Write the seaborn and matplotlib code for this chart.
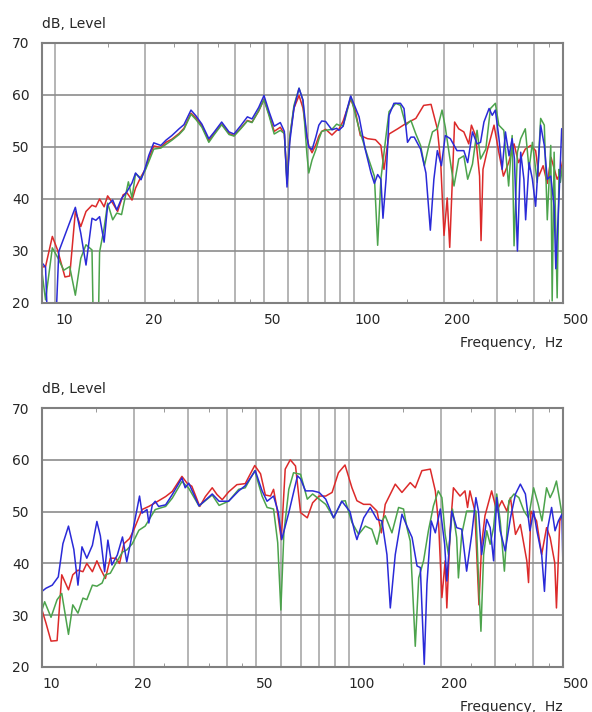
"""Two-panel frequency response plot (level in dB vs frequency)"""

import matplotlib
matplotlib.use("Agg")
import matplotlib.pyplot as plt
from matplotlib.ticker import FixedLocator, NullFormatter
import pandas as pd
import seaborn as sns

# (Hz, dB) points
top_red = [
    (9.0, 26.9), (9.3, 27.0), (9.8, 32.8), (10.2, 30.2), (10.8, 25.0), (11.2, 25.2), (11.7, 37.6),
    (12.2, 34.7), (12.7, 37.6), (13.3, 38.8), (13.7, 38.5), (14.1, 40.0), (14.6, 38.5), (15.0, 40.6),
    (15.6, 39.2), (16.2, 37.6), (16.9, 40.8), (17.4, 41.2), (18.1, 39.8), (18.6, 42.1), (19.4, 44.3),
    (20, 45.6), (20.6, 47.8), (21.4, 50.2), (22.6, 49.9), (23.5, 50.9), (24.6, 51.5), (26, 52.6),
    (27, 53.6), (28.5, 56.5), (29.6, 55.6), (31, 54.1), (32.7, 51.2), (34, 52.5), (36.1, 54.4),
    (38.2, 52.6), (39.7, 52.2), (41.8, 53.6), (44, 55.1), (45.6, 54.8), (48, 56.9), (50, 59.2),
    (52, 56.3), (54.1, 53.0), (56.7, 53.8), (58.5, 52.5), (59.7, 43.5), (61, 52.0), (63, 57.5),
    (65.5, 59.9), (67.5, 57.5), (69.6, 52.0), (70.6, 50.2), (72.4, 48.9), (74.6, 50.5), (76.3, 52.1),
    (78, 53.0), (80.4, 53.4), (84.4, 52.3), (87.5, 53.2), (89, 53.4), (92, 55.0), (94, 56.6),
    (97.5, 59.2), (101, 57.0), (105, 52.2), (111, 51.6), (118, 51.4), (123, 50.3), (126, 45.7),
    (131, 52.5), (140, 53.5), (149, 54.5), (161, 55.5), (171, 58.0), (181, 58.2), (190, 53.5),
    (195, 47.0), (200, 33.0), (205, 40.2), (209, 30.7), (217, 54.8), (224, 53.5), (233, 52.9),
    (242, 50.6), (247, 54.2), (255, 52.2), (263, 44.4), (266, 32.0), (270, 45.7), (279, 49.3),
    (294, 54.2), (305, 49.0), (316, 44.4), (329, 47.0), (343, 50.6), (355, 47.0), (374, 49.6),
    (390, 50.3), (405, 49.3), (415, 44.4), (429, 46.4), (443, 43.0), (456, 48.0), (478, 43.8),
    (490, 45.0), (500, 47.7),
]
top_blue = [
    (9.0, 27.9), (9.3, 26.9), (9.5, 12.0), (10.0, 12.0), (10.3, 29.9), (11.7, 38.4), (12.2, 33.4),
    (12.7, 27.3), (13.3, 36.3), (13.7, 35.9), (14.1, 36.6), (14.6, 31.7), (15.0, 38.8), (15.6, 39.8),
    (16.1, 37.9), (16.7, 40.1), (17.4, 41.4), (18.1, 43.1), (18.6, 45.0), (19.4, 43.7),
    (20, 45.8), (20.6, 48.4), (21.4, 50.8), (22.6, 50.3), (23.5, 51.3), (24.6, 52.2), (26, 53.5),
    (27, 54.3), (28.5, 57.1), (29.6, 56.0), (31, 54.4), (32.7, 51.6), (34, 52.8), (36.1, 54.8),
    (38.2, 52.9), (39.7, 52.5), (41.8, 54.1), (44, 55.8), (45.6, 55.4), (48, 57.6), (50, 59.9),
    (52, 56.8), (54.1, 54.0), (56.7, 54.7), (58.5, 53.0), (59.7, 42.3), (61, 51.0), (63, 57.5),
    (65.5, 61.3), (67.5, 59.0), (69.6, 52.0), (70.6, 50.0), (72.4, 49.5), (74.6, 52.0), (76.3, 54.2),
    (78, 55.0), (80.4, 54.9), (84.4, 53.3), (87.5, 53.6), (89, 53.2), (92, 54.0), (94, 56.5),
    (97.5, 59.8), (104, 55.8), (109, 49.6), (114, 45.0), (117, 43.0), (120, 44.7), (123, 43.8),
    (125, 36.3), (128, 43.8), (131, 56.1), (136, 58.4), (143, 58.4), (147, 57.4), (151, 50.9),
    (155, 51.9), (159, 51.9), (167, 49.6), (174, 45.0), (180, 34.0), (185, 43.8), (190, 49.3),
    (196, 46.4), (202, 52.2), (210, 51.6), (221, 49.3), (233, 49.3), (240, 47.0), (249, 52.9),
    (258, 50.6), (265, 50.9), (272, 54.8), (283, 57.4), (290, 56.1), (297, 57.1), (305, 51.9),
    (313, 45.7), (321, 52.9), (330, 48.3), (338, 51.6), (344, 47.7), (352, 30.0), (361, 49.0),
    (370, 43.8), (375, 36.0), (385, 47.0), (395, 43.8), (405, 38.6), (421, 54.2), (433, 50.3),
    (443, 43.8), (455, 44.4), (467, 38.6), (473, 26.6), (485, 40.5), (495, 53.5), (500, 53.6),
]
top_green = [
    (9.0, 27.0), (9.3, 20.6), (9.8, 30.6), (10.2, 28.8), (10.7, 26.3), (11.2, 27.0), (11.7, 21.5),
    (12.2, 28.6), (12.7, 31.2), (13.3, 30.2), (13.45, 14.0), (13.95, 14.0), (14.1, 29.8), (14.6, 34.4),
    (15.0, 39.2), (15.6, 36.0), (16.1, 37.3), (16.7, 37.0), (17.6, 43.3), (18.1, 40.2), (18.6, 44.9),
    (19.4, 44.0), (20, 45.4), (20.6, 47.2), (21.4, 49.6), (22.6, 49.8), (23.5, 50.5), (24.6, 51.3),
    (26, 52.4), (27, 53.4), (28.5, 56.3), (29.6, 55.3), (31, 53.8), (32.7, 50.9), (34, 52.3),
    (36.1, 54.3), (38.2, 52.4), (39.7, 52.1), (41.8, 53.5), (44, 55.0), (45.6, 54.7), (48, 57.0),
    (50, 59.1), (52, 56.0), (54.1, 52.5), (56.7, 53.2), (58.5, 52.6), (59.7, 43.0), (61, 52.0),
    (63, 58.0), (65.5, 61.3), (67.5, 59.0), (69.6, 48.6), (70.6, 45.0), (72.4, 47.5), (74.6, 49.5),
    (76.3, 51.5), (78, 53.0), (80.4, 53.2), (84.4, 53.4), (87.5, 54.4), (89, 54.2), (92, 54.1),
    (94, 56.0), (97.5, 59.7), (104, 53.5), (111, 48.3), (117, 44.4), (120, 31.1), (123, 43.8),
    (128, 52.2), (131, 56.8), (138, 58.4), (143, 58.0), (149, 54.2), (155, 55.1), (161, 52.5),
    (167, 50.3), (172, 46.4), (178, 50.3), (183, 52.9), (190, 53.5), (197, 57.1), (202, 53.8),
    (209, 48.0), (216, 42.5), (224, 47.7), (233, 48.3), (240, 43.8), (249, 46.7), (258, 53.2),
    (265, 47.7), (276, 49.6), (286, 57.4), (297, 58.4), (305, 54.2), (317, 53.2), (329, 42.5),
    (338, 52.2), (343, 31.0), (352, 49.0), (361, 51.6), (374, 53.5), (385, 45.7), (395, 50.9),
    (410, 43.2), (421, 55.5), (433, 54.2), (443, 36.0), (455, 50.3), (460, 20.4), (467, 49.0),
    (478, 21.0), (485, 45.7), (490, 43.2), (498, 46.4),
]

bot_red = [
    (10.0, 31.0), (10.3, 28.5), (10.7, 25.0), (11.2, 25.1), (11.6, 37.8), (12.2, 34.9), (12.6, 37.8),
    (13.1, 38.7), (13.6, 38.4), (14.0, 40.0), (14.6, 38.4), (15.1, 40.5), (15.5, 39.0), (16.1, 37.1),
    (16.7, 41.0), (17.4, 41.0), (17.9, 40.0), (18.5, 43.8), (19.3, 44.8), (19.9, 46.4),
    (21.2, 50.4), (22.3, 51.0), (23.4, 51.7), (25.3, 52.9), (26.6, 53.9), (28.6, 56.8), (29.7, 55.5),
    (30.8, 54.9), (32.7, 51.0), (34.1, 52.9), (35.9, 54.6), (37.2, 53.3), (38.7, 52.3), (40.6, 53.8),
    (43.2, 55.2), (46.0, 55.4), (49.4, 58.9), (51.6, 57.3), (53.5, 53.2), (55.6, 53.0), (56.9, 54.3),
    (58.3, 50.8), (60.3, 44.6), (62.1, 58.2), (64.5, 60.0), (67.1, 58.8), (69.7, 49.8), (73.3, 48.8),
    (76.3, 51.7), (80.1, 53.0), (84.2, 53.0), (88.3, 53.7), (92.6, 57.5), (97.3, 59.0),
    (102.5, 54.6), (106.4, 52.1), (111.9, 51.4), (117.6, 51.4), (123.7, 50.1), (127.8, 45.9),
    (131.6, 51.4), (141.9, 55.3), (149.2, 53.7), (158.8, 55.6), (164.9, 54.6), (173.3, 57.9),
    (184.6, 58.2), (191.7, 54.0), (196.6, 47.5), (201.4, 33.4), (206.4, 40.5), (209.0, 31.4),
    (214.2, 46.3), (219.6, 54.6), (230.8, 53.0), (239.5, 54.0), (244.2, 50.8), (248.6, 54.0),
    (258.0, 50.1), (266.0, 32.0), (271.4, 43.7), (278.3, 49.2), (292.6, 54.0), (304.0, 50.1),
    (316.0, 52.1), (328.0, 50.1), (337.0, 52.7), (350.0, 45.6), (363.0, 47.5), (381.0, 40.5),
    (386.0, 36.3), (393.0, 50.1), (410.0, 48.2), (426.0, 41.7), (442.0, 46.9), (454.0, 45.0),
    (470.0, 40.1), (476.0, 31.4), (488.0, 48.2), (500.0, 49.8),
]
bot_blue = [
    (10.0, 34.6), (10.3, 35.2), (10.8, 35.8), (11.3, 37.4), (11.7, 43.8), (12.2, 47.2), (12.7, 42.7),
    (13.1, 35.8), (13.5, 43.2), (14.0, 41.0), (14.6, 43.5), (15.1, 48.1), (15.5, 45.3), (16.0, 38.4),
    (16.4, 44.5), (16.9, 39.7), (17.6, 41.6), (18.3, 45.1), (18.9, 40.3), (19.6, 45.1),
    (20.8, 53.0), (21.2, 49.7), (22.0, 50.4), (22.3, 47.8), (22.9, 51.3), (23.4, 52.0), (24.0, 51.0),
    (25.3, 51.3), (26.6, 53.3), (28.6, 56.5), (29.3, 54.6), (30.1, 55.5), (32.5, 51.1), (35.9, 53.4),
    (37.8, 52.0), (40.6, 52.0), (43.8, 54.0), (46.0, 55.0), (49.6, 57.9), (52.2, 54.0), (54.2, 52.0),
    (56.9, 53.0), (59.0, 49.8), (60.5, 44.6), (63.8, 49.8), (68.1, 56.9), (69.7, 56.3), (72.3, 54.0),
    (76.3, 54.0), (80.1, 53.7), (84.2, 52.4), (89.3, 48.8), (95.0, 52.0), (101.0, 50.0),
    (104.7, 46.0), (106.4, 44.6), (112.0, 48.8), (117.6, 50.8), (123.7, 48.5), (128.4, 48.2),
    (133.3, 41.7), (136.7, 31.4), (141.9, 41.7), (149.2, 49.5), (154.9, 47.2), (161.0, 45.0),
    (167.1, 39.5), (171.3, 39.2), (176.4, 20.5), (180.0, 36.0), (185.9, 48.2), (191.7, 45.9),
    (199.0, 50.5), (205.6, 43.7), (209.0, 36.6), (216.9, 50.1), (225.0, 46.9), (233.7, 46.6),
    (242.5, 38.5), (252.0, 45.6), (260.0, 52.7), (265.0, 50.1), (271.4, 41.7), (282.0, 48.5),
    (289.4, 46.9), (296.9, 40.5), (304.0, 52.7), (312.0, 46.3), (324.0, 42.4), (337.0, 48.8),
    (350.0, 53.4), (363.0, 55.3), (377.0, 53.4), (390.0, 46.3), (401.0, 50.1), (411.0, 46.3),
    (426.0, 41.7), (435.0, 34.6), (446.0, 46.9), (459.0, 50.8), (471.0, 46.3), (483.0, 48.2),
    (496.0, 49.5), (500.0, 38.8),
]
bot_green = [
    (10.0, 31.0), (10.2, 32.6), (10.7, 29.6), (11.2, 33.0), (11.6, 34.2), (12.2, 26.3), (12.6, 32.0),
    (13.1, 30.4), (13.6, 33.3), (14.0, 33.0), (14.6, 35.8), (15.1, 35.6), (15.7, 36.2), (16.1, 37.8),
    (16.7, 38.1), (17.4, 40.0), (18.3, 42.2), (18.9, 42.6), (19.7, 43.8), (20.7, 46.4), (21.7, 47.2),
    (23.4, 50.4), (25.3, 51.0), (26.6, 52.6), (28.6, 55.8), (30.1, 54.5), (32.5, 51.1), (35.9, 53.2),
    (37.8, 51.2), (40.6, 52.0), (43.8, 54.3), (46.0, 54.6), (49.4, 57.9), (52.2, 53.0), (54.2, 50.8),
    (56.9, 50.5), (58.7, 44.0), (60.1, 31.0), (61.5, 46.0), (63.8, 54.3), (66.1, 57.5), (69.7, 57.2),
    (73.3, 52.4), (76.3, 53.4), (80.1, 52.4), (84.2, 51.4), (89.3, 48.8), (95.0, 52.0), (97.5, 52.1),
    (102.5, 47.9), (107.8, 45.6), (113.3, 47.2), (119.0, 46.6), (123.7, 43.7), (128.4, 48.2),
    (131.6, 49.2), (138.4, 45.9), (145.5, 50.8), (151.0, 50.5), (154.9, 46.9), (158.8, 44.3),
    (162.9, 30.8), (164.9, 24.0), (169.2, 37.2), (175.5, 40.5), (182.0, 46.3), (189.0, 51.1),
    (196.0, 54.0), (201.4, 52.7), (206.4, 45.6), (211.6, 41.7), (218.0, 50.5), (225.0, 45.0),
    (228.0, 37.2), (233.7, 45.6), (242.5, 50.1), (252.0, 50.1), (260.0, 50.1), (265.0, 37.2),
    (270.0, 26.9), (275.5, 41.7), (282.0, 46.3), (289.4, 43.7), (296.9, 46.9), (304.0, 53.4),
    (312.0, 48.2), (322.0, 38.5), (333.0, 52.1), (346.0, 53.4), (359.0, 52.7), (373.0, 50.1),
    (386.0, 48.8), (401.0, 54.6), (415.0, 51.4), (427.0, 48.2), (442.0, 54.6), (454.0, 52.7),
    (465.0, 54.0), (476.0, 55.9), (488.0, 52.1), (500.0, 48.2),
]

major_labels = [10, 20, 50, 100, 200, 500]
grid_hz = [10, 20, 30, 40, 50, 60, 70, 80, 90, 100, 200, 300, 400, 500]
minor_hz = [15, 25, 35, 45, 150, 250, 350, 450]
db_ticks = [20, 30, 40, 50, 60, 70]

palette = {"red": "#dc2a2a", "green": "#4ca34c", "blue": "#2a2ad8"}


def to_frame(red, green, blue):
    """long table: one row per point"""
    parts = []
    for name, pts in (("red", red), ("green", green), ("blue", blue)):
        hz, db = zip(*pts)
        parts.append(pd.DataFrame({"hz": hz, "db": db, "series": name}))
    return pd.concat(parts, ignore_index=True)


def draw_panel(ax, df, xmin):
    """one response panel"""
    sns.lineplot(data=df, x="hz", y="db", hue="series", palette=palette,
                 estimator=None, sort=False, legend=False, linewidth=1.1, ax=ax)
    ax.set_xscale("log")
    ax.set_xlim(xmin, 500)
    ax.set_ylim(20, 70)
    ax.set_axisbelow(True)

    ax.xaxis.set_major_locator(FixedLocator(grid_hz))
    ax.set_xticklabels([str(v) if v in major_labels else "" for v in grid_hz])
    for lbl in ax.get_xticklabels():
        lbl.set_horizontalalignment("left")
    ax.xaxis.set_minor_locator(FixedLocator(minor_hz))
    ax.xaxis.set_minor_formatter(NullFormatter())
    ax.set_yticks(db_ticks)

    ax.tick_params(axis="x", which="major", length=0, pad=7, labelsize=10)
    ax.tick_params(axis="x", which="minor", direction="in", length=3,
                   top=True, bottom=True, color="#888888")
    ax.tick_params(axis="y", which="major", length=0, pad=9, labelsize=10)

    ax.grid(True, which="major", axis="x", color="#a8a8a8", linewidth=1.2)
    ax.grid(True, which="major", axis="y", color="#8c8c8c", linewidth=1.2)
    for sp in ax.spines.values():
        sp.set_color("#808080")
        sp.set_linewidth(1.5)

    ax.set_xlabel("")
    ax.set_ylabel("")
    ax.text(0, 1.058, "dB, Level", transform=ax.transAxes, ha="left",
            va="baseline", fontsize=10)
    ax.text(1, -0.168, "Frequency,  Hz", transform=ax.transAxes, ha="right",
            va="baseline", fontsize=10)


sns.set_style("white")
plt.rcParams["font.family"] = ["DejaVu Sans"]

fig = plt.figure(figsize=(5.92, 7.12), dpi=100)
ax_top = fig.add_axes([42 / 592, 1 - 303 / 712, 521 / 592, 260 / 712])
ax_bot = fig.add_axes([42 / 592, 1 - 667 / 712, 521 / 592, 259 / 712])

draw_panel(ax_top, to_frame(top_red, top_green, top_blue), 9.05)
draw_panel(ax_bot, to_frame(bot_red, bot_green, bot_blue), 10.0)

fig.savefig("out.png", dpi=100)
